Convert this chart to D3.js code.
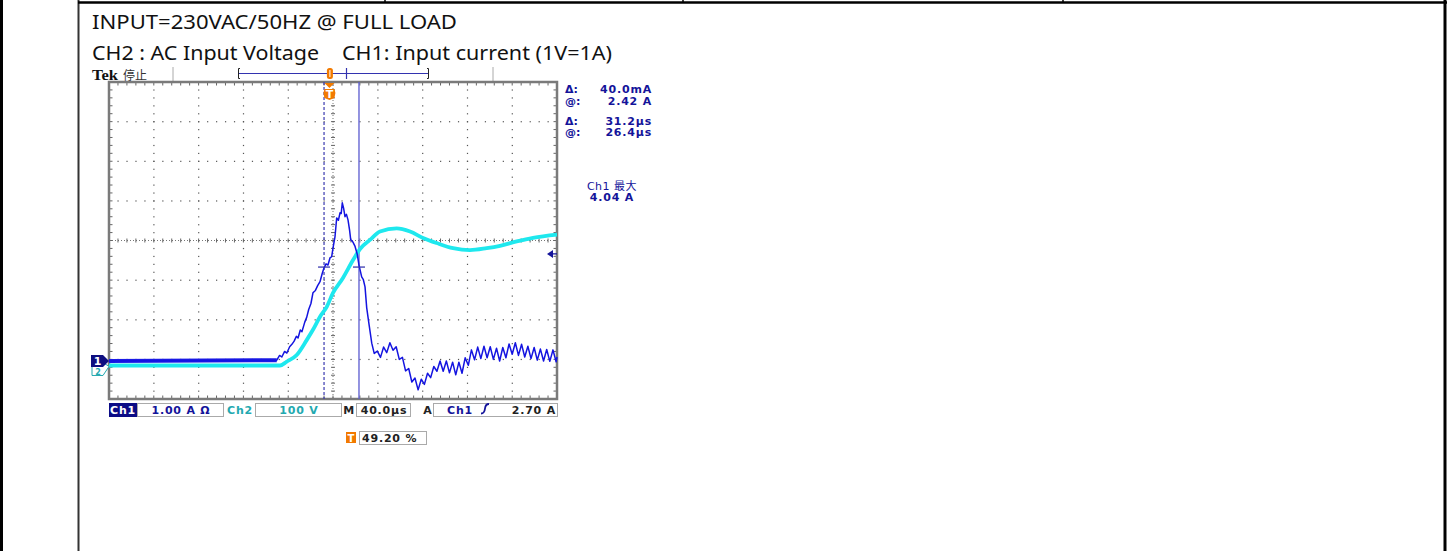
<!DOCTYPE html>
<html><head><meta charset="utf-8">
<script src="https://cdn.jsdelivr.net/npm/d3@7"></script>
<style>body{margin:0;background:#fff;}svg{display:block;}</style>
</head><body>
<svg id="c" width="1447" height="551"></svg>
<script>
// ---------------- data ----------------
const headerLine1 = "INPUT=230VAC/50HZ @ FULL LOAD";
const headerLine2a = "CH2 : AC Input Voltage";
const headerLine2b = "CH1: Input current (1V=1A)";

const timeRange = [-196.8, 203.2];   // µs, 40 µs/div, trigger at 49.20 %
const timePerDiv = 40;
const ch1Range = [-0.96, 7.04];      // A, 1.00 A/div
const ch2Range = [-84.6, 715.4];     // V, 100 V/div

// CH1 input current (A) vs time (µs)
const ch1Time = [-196.8,-47,-44.5,-42.5,-40,-38,-35.5,-33.5,-31.5,-29.5,-28,-26,-24.5,-22,-20.3,-18.5,-16.5,-14.7,-12.5,-10.5,-8.4,-6.5,-4.8,-3,-1.3,0.5,2,3.5,5,6.5,8,9.5,10.5,11.5,12.7,13.9,15.2,16.6,18,19,21,22.9,24.8,26.4,28.8,30.3,31.8,33.3,35.5,37.8,
  40,42.8,45.6,48.4,51.2,54,56.8,59.6,62.4,65.2,68,70.8,73.6,76.4,79.2,82,84.8,87.6,90.4,93.2,96,98.8,101.6,104.4,107.2,110,112.8,115.6,118.4,121.2,124,126.8,129.6,132.4,135.2,138,140.8,143.6,146.4,149.2,152,154.8,157.6,160.4,163.2,166,168.8,171.6,174.4,177.2,180,182.8,185.6,188.4,191.2,194,196.8,199.6,202.4,203.2];
const ch1Current = [0,0.02,0.14,0.1,0.24,0.2,0.36,0.42,0.5,0.62,0.58,0.78,0.74,0.98,1.1,1.3,1.45,1.72,1.78,1.9,2.0,2.2,2.35,2.45,2.42,2.6,2.63,2.9,3.14,3.61,3.55,3.74,3.72,3.99,3.85,3.64,3.7,3.56,3.3,3.06,3.0,2.89,2.7,2.42,2.12,2.05,1.87,1.34,0.9,0.45,
  0.19,0.25,0.09,0.35,0.21,0.46,0.27,0.36,0.04,0.09,-0.25,-0.19,-0.53,-0.43,-0.73,-0.46,-0.59,-0.31,-0.42,-0.14,-0.26,0.0,-0.26,0.0,-0.3,-0.03,-0.35,-0.03,-0.31,0.08,-0.11,0.28,0.03,0.35,0.06,0.37,0.08,0.36,0.04,0.32,0.0,0.34,0.08,0.43,0.17,0.46,0.14,0.42,0.1,0.37,0.06,0.34,0.02,0.3,0.0,0.29,-0.01,0.28,-0.02,0.1];
const ch1IdleEnd = -47;   // end of flat noisy baseline (µs)

// CH2 AC input voltage (V) vs time (µs)
const ch2Time = [-196.8,-44.1,-38.1,-29.2,-20.3,-14.7,-8.4,-2.4,3.2,12.1,21.1,27.3,36.2,45.2,60.1,72,83.6,95.8,110.4,125.5,140.4,152.3,167.2,181.8,203.2];
const ch2Voltage = [0,0,9.6,26.5,64,90,123,148,183,221,266,294,317,338,346,338,322,309,296,291,296,302,313,322,330];

const cursorTimes = [-4.8, 26.4];
const cursorLevel = 2.42;
const triggerLevel = 2.70;
const readoutKeys = ["Δ:", "@:", "Δ:", "@:"];
const readoutValues = ["40.0mA", "2.42 A", "31.2µs", "26.4µs"];
const maxLabels = ["Ch1 最大", "4.04 A"];
const ch1Scale = "1.00 A Ω", ch2Scale = "100 V", timeScale = "40.0µs", trigLevelText = "2.70 A", trigPosText = "49.20 %";

// ---------------- drawing ----------------
const svg = d3.select("#c");
svg.append("rect").attr("width", 1447).attr("height", 551).attr("fill", "#fff");

// table borders
const tb = svg.append("g");
tb.append("line").attr("x1", 1.5).attr("x2", 1.5).attr("y1", 0).attr("y2", 551).attr("stroke", "#000").attr("stroke-width", 3);
tb.append("line").attr("x1", 78.5).attr("x2", 78.5).attr("y1", 0).attr("y2", 551).attr("stroke", "#333").attr("stroke-width", 2);
tb.append("line").attr("x1", 1445).attr("x2", 1445).attr("y1", 0).attr("y2", 551).attr("stroke", "#000").attr("stroke-width", 3);
tb.append("line").attr("x1", 78).attr("x2", 1447).attr("y1", 2.5).attr("y2", 2.5).attr("stroke", "#000").attr("stroke-width", 2.5);
[385, 683, 1063].forEach(x => tb.append("line").attr("x1", x).attr("x2", x).attr("y1", 0).attr("y2", 3).attr("stroke", "#000").attr("stroke-width", 1.5));

// header text
const hf = "'Noto Sans', 'Open Sans', sans-serif";
svg.append("text").attr("x", 92).attr("y", 29).attr("font-family", hf).attr("font-size", 20).attr("fill", "#111")
  .attr("textLength", 365).attr("lengthAdjust", "spacingAndGlyphs").text(headerLine1);
svg.append("text").attr("x", 92).attr("y", 60).attr("font-family", hf).attr("font-size", 20).attr("fill", "#111")
  .attr("textLength", 227).attr("lengthAdjust", "spacingAndGlyphs").text(headerLine2a);
svg.append("text").attr("x", 342).attr("y", 60).attr("font-family", hf).attr("font-size", 20).attr("fill", "#111")
  .attr("textLength", 270).attr("lengthAdjust", "spacingAndGlyphs").text(headerLine2b);

// scales
const X0 = 109, X1 = 557, Y0 = 82, Y1 = 399;
const x = d3.scaleLinear().domain(timeRange).range([X0, X1]);
const yDiv = d3.scaleLinear().domain([0, 8]).range([Y1, Y0]);
const y1 = d3.scaleLinear().domain(ch1Range).range([Y1, Y0]);
const y2 = d3.scaleLinear().domain(ch2Range).range([Y1, Y0]);

const navy = "#14149a", teal = "#23a9b0", orange = "#f27a00";
const sf = "'DejaVu Sans', Verdana, sans-serif";

// Tek top bar
svg.append("text").attr("x", 92).attr("y", 79.5).attr("font-family", "'Liberation Serif', serif").attr("font-weight", "bold").attr("font-size", 14).attr("fill", "#111")
  .attr("textLength", 26).attr("lengthAdjust", "spacingAndGlyphs").text("Tek");
svg.append("text").attr("x", 123).attr("y", 80).attr("font-family", "'Noto Sans CJK TC', sans-serif").attr("font-size", 12).attr("fill", "#333").text("停止");
[173, 493].forEach(xx => svg.append("line").attr("x1", xx).attr("x2", xx).attr("y1", 67).attr("y2", 81).attr("stroke", "#aaa").attr("stroke-width", 1));
const rb = svg.append("g");
rb.append("line").attr("x1", 238).attr("x2", 429).attr("y1", 73.5).attr("y2", 73.5).attr("stroke", "#3333b0").attr("stroke-width", 1);
rb.append("path").attr("d", "M240,68.5 H238.5 V78.5 H240 M427,68.5 H428.5 V78.5 H427").attr("fill", "none").attr("stroke", "#222").attr("stroke-width", 1);
rb.append("line").attr("x1", 346.5).attr("x2", 346.5).attr("y1", 68).attr("y2", 79).attr("stroke", "#3333b0").attr("stroke-width", 1.2);
rb.append("rect").attr("x", x(0) - 2.5).attr("y", 68).attr("width", 6).attr("height", 11).attr("rx", 2.5).attr("fill", orange);
rb.append("line").attr("x1", x(0) + 0.5).attr("x2", x(0) + 0.5).attr("y1", 70).attr("y2", 77).attr("stroke", "#fff").attr("stroke-width", 1);

// graticule
const g = svg.append("g");
const gridTimes = d3.range(11).map(i => timeRange[0] + timePerDiv * i);
const minorX = d3.range(51).map(i => timeRange[0] + timePerDiv / 5 * i);
const minorY = d3.range(41).map(i => i / 5);
gridTimes.forEach((t, i) => {
  if (i === 0 || i === 10 || i === 5) return;
  minorY.forEach(d => g.append("rect").attr("x", x(t) - 0.5).attr("y", yDiv(d) - 0.5).attr("width", 1.2).attr("height", 1.2).attr("fill", "#555"));
});
d3.range(1, 8).forEach(j => {
  if (j === 4) return;
  minorX.forEach(t => g.append("rect").attr("x", x(t) - 0.5).attr("y", yDiv(j) - 0.5).attr("width", 1.2).attr("height", 1.2).attr("fill", "#555"));
});
g.append("line").attr("x1", X0).attr("x2", X1).attr("y1", yDiv(4)).attr("y2", yDiv(4)).attr("stroke", "#777").attr("stroke-width", 1).attr("stroke-dasharray", "1,2");
g.append("line").attr("x1", x(gridTimes[5])).attr("x2", x(gridTimes[5])).attr("y1", Y0).attr("y2", Y1).attr("stroke", "#777").attr("stroke-width", 1).attr("stroke-dasharray", "1,2");
minorX.forEach(t => g.append("line").attr("x1", x(t)).attr("x2", x(t)).attr("y1", yDiv(4) - 2).attr("y2", yDiv(4) + 2).attr("stroke", "#666").attr("stroke-width", 1));
minorY.forEach(d => g.append("line").attr("x1", x(gridTimes[5]) - 2).attr("x2", x(gridTimes[5]) + 2).attr("y1", yDiv(d)).attr("y2", yDiv(d)).attr("stroke", "#666").attr("stroke-width", 1));
minorX.forEach(t => {
  g.append("line").attr("x1", x(t)).attr("x2", x(t)).attr("y1", Y0).attr("y2", Y0 + 3.5).attr("stroke", "#666").attr("stroke-width", 1);
  g.append("line").attr("x1", x(t)).attr("x2", x(t)).attr("y1", Y1 - 3.5).attr("y2", Y1).attr("stroke", "#666").attr("stroke-width", 1);
});
minorY.forEach(d => {
  g.append("line").attr("x1", X0).attr("x2", X0 + 3.5).attr("y1", yDiv(d)).attr("y2", yDiv(d)).attr("stroke", "#666").attr("stroke-width", 1);
  g.append("line").attr("x1", X1 - 3.5).attr("x2", X1).attr("y1", yDiv(d)).attr("y2", yDiv(d)).attr("stroke", "#666").attr("stroke-width", 1);
});
g.append("rect").attr("x", X0).attr("y", Y0).attr("width", X1 - X0).attr("height", Y1 - Y0).attr("fill", "none").attr("stroke", "#7a7a7a").attr("stroke-width", 2.5);

// cursors
svg.append("line").attr("x1", x(cursorTimes[0])).attr("x2", x(cursorTimes[0])).attr("y1", Y0).attr("y2", Y1)
  .attr("stroke", "#3a3ab0").attr("stroke-width", 1.2).attr("stroke-dasharray", "3,2");
svg.append("line").attr("x1", x(cursorTimes[1])).attr("x2", x(cursorTimes[1])).attr("y1", Y0).attr("y2", Y1)
  .attr("stroke", "#5a5ad0").attr("stroke-width", 1.3);

// traces
const ch2Data = ch2Time.map((t, i) => [t, ch2Voltage[i]]);
const ch1Data = ch1Time.map((t, i) => [t, ch1Current[i]]);
svg.append("path").datum(ch2Data).attr("fill", "none").attr("stroke", "#1ee8ee").attr("stroke-width", 3.8).attr("stroke-linejoin", "round")
  .attr("d", d3.line().x(d => x(d[0])).y(d => y2(d[1])).curve(d3.curveMonotoneX));
svg.append("path").datum(ch1Data.filter(d => d[0] <= ch1IdleEnd)).attr("fill", "none").attr("stroke", "#1a1ae6").attr("stroke-width", 4)
  .attr("d", d3.line().x(d => x(d[0])).y(d => y1(d[1])));
svg.append("path").datum(ch1Data).attr("fill", "none").attr("stroke", "#1414e0").attr("stroke-width", 1.5).attr("stroke-linejoin", "round")
  .attr("d", d3.line().x(d => x(d[0])).y(d => y1(d[1])));

// cursor level marks
cursorTimes.forEach(t => svg.append("line").attr("x1", x(t) - 6).attr("x2", x(t) + 6).attr("y1", y1(cursorLevel) + 2).attr("y2", y1(cursorLevel) + 2).attr("stroke", "#3a3ab0").attr("stroke-width", 1.3));

// trigger marker T at top
const tx = x(0);
svg.append("path").attr("d", `M${tx - 5},${Y0 + 1} L${tx + 5},${Y0 + 1} L${tx},${Y0 + 6} Z`).attr("fill", orange);
svg.append("path").attr("d", `M${tx - 5},${Y0 + 7} L${tx + 5},${Y0 + 7} L${tx + 6},${Y0 + 11} L${tx + 5},${Y0 + 16} L${tx},${Y0 + 18} L${tx - 5},${Y0 + 16} L${tx - 6},${Y0 + 11} Z`).attr("fill", orange);
svg.append("text").attr("x", tx).attr("y", Y0 + 16).attr("text-anchor", "middle").attr("font-family", sf).attr("font-weight", "bold").attr("font-size", 11).attr("fill", "#fff").text("T");

// trigger level arrow (right)
const tly = y1(triggerLevel);
svg.append("path").attr("d", `M${X1 - 10},${tly} L${X1 - 4},${tly - 4} L${X1 - 4},${tly + 4} Z M${X1 - 4},${tly - 0.6} H${X1} V${tly + 0.6} H${X1 - 4} Z`).attr("fill", navy);

// ground markers
const g2y = y2(0), g1y = y1(0);
svg.append("path").attr("d", `M92,${g2y - 3} H103 L109,${g2y + 1} L103,${g2y + 10} H92 Z`).attr("fill", "#fff").attr("stroke", teal).attr("stroke-width", 1);
svg.append("text").attr("x", 98).attr("y", g2y + 10).attr("text-anchor", "middle").attr("font-family", sf).attr("font-weight", "bold").attr("font-size", 8).attr("fill", teal).text("2");
svg.append("path").attr("d", `M91,${g1y - 6} H103 L109,${g1y} L103,${g1y + 6} H91 Z`).attr("fill", "#0e0e80");
svg.append("text").attr("x", 97.5).attr("y", g1y + 4.5).attr("text-anchor", "middle").attr("font-family", sf).attr("font-weight", "bold").attr("font-size", 11).attr("fill", "#fff").text("1");

// readouts right
const ry = [93, 105, 125, 136];
readoutKeys.forEach((k, i) => {
  svg.append("text").attr("x", 565).attr("y", ry[i]).attr("font-family", sf).attr("font-weight", "bold").attr("font-size", 11).attr("fill", navy).text(k);
  svg.append("text").attr("x", 652).attr("y", ry[i]).attr("text-anchor", "end").attr("font-family", sf).attr("font-weight", "bold").attr("font-size", 11).attr("letter-spacing", 0.8).attr("fill", navy).text(readoutValues[i]);
});
svg.append("text").attr("x", 612).attr("y", 190).attr("text-anchor", "middle").attr("font-family", sf + ", 'Noto Sans CJK TC'").attr("font-size", 11).attr("letter-spacing", 0.5).attr("fill", navy).text(maxLabels[0]);
svg.append("text").attr("x", 612).attr("y", 201).attr("text-anchor", "middle").attr("font-family", sf).attr("font-weight", "bold").attr("font-size", 11).attr("letter-spacing", 0.8).attr("fill", navy).text(maxLabels[1]);

// status bar
const sb = svg.append("g");
const by = 403, bh = 13, tby = 414;
function box(x0, w) { sb.append("rect").attr("x", x0 + 0.5).attr("y", by + 0.5).attr("width", w).attr("height", bh).attr("fill", "#fff").attr("stroke", "#aaa").attr("stroke-width", 1); }
function txt(xx, s, col, anchor, yy) {
  sb.append("text").attr("x", xx).attr("y", yy || tby).attr("text-anchor", anchor || "middle").attr("font-family", sf).attr("font-weight", "bold").attr("font-size", 11).attr("letter-spacing", 0.8).attr("fill", col).text(s);
}
sb.append("rect").attr("x", 109).attr("y", by).attr("width", 28).attr("height", bh + 1).attr("fill", "#0c0c86");
txt(123, "Ch1", "#fff");
box(137, 86); txt(181, ch1Scale, navy);
txt(240, "Ch2", teal);
box(255, 86); txt(299, ch2Scale, teal);
txt(349, "M", "#222");
box(356, 54); txt(384, timeScale, "#222");
txt(428, "A", "#222");
box(433, 124); txt(460, "Ch1", navy);
sb.append("path").attr("d", "M481,413.5 Q484.5,413.5 485,408.5 Q485.5,404 489,404").attr("fill", "none").attr("stroke", navy).attr("stroke-width", 1.8);
txt(556, trigLevelText, "#222", "end");
sb.append("rect").attr("x", 346).attr("y", 432).attr("width", 10).attr("height", 11).attr("fill", orange);
sb.append("text").attr("x", 351).attr("y", 441.5).attr("text-anchor", "middle").attr("font-family", sf).attr("font-weight", "bold").attr("font-size", 10).attr("fill", "#fff").text("T");
sb.append("rect").attr("x", 359.5).attr("y", 431.5).attr("width", 67).attr("height", 13).attr("fill", "#fff").attr("stroke", "#aaa");
txt(362, trigPosText, "#222", "start", 442);
</script>
</body></html>
